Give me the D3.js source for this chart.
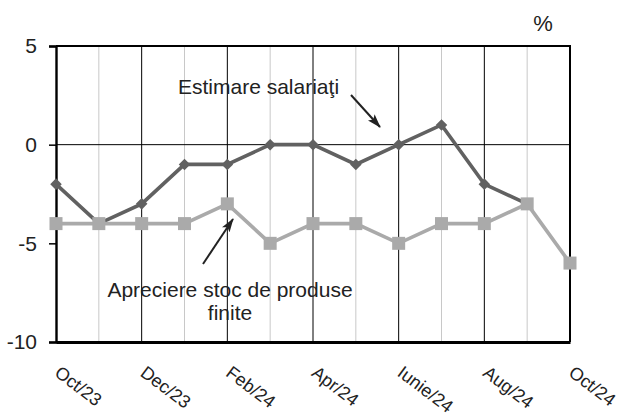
<!DOCTYPE html>
<html>
<head>
<meta charset="utf-8">
<script src="https://cdn.jsdelivr.net/npm/d3@7"></script>
<style>
  body { margin: 0; background: #fff; }
  svg { font-family: "Liberation Sans", Arial, sans-serif; }
</style>
</head>
<body>
<div id="chart"></div>
<script>
// months Oct/23 .. Oct/24
const months = ["Oct/23","Nov/23","Dec/23","Ian/24","Feb/24","Mar/24","Apr/24","Mai/24","Iunie/24","Iul/24","Aug/24","Sep/24","Oct/24"];
const tickLabels = ["Oct/23","Dec/23","Feb/24","Apr/24","Iunie/24","Aug/24","Oct/24"];
const salariati = [-2, -4, -3, -1, -1, 0, 0, -1, 0, 1, -2, -3, null];
const stoc = [-4, -4, -4, -4, -3, -5, -4, -4, -5, -4, -4, -3, -6];
const yTicks = [5, 0, -5, -10];

const width = 624, height = 418;
const margin = {left: 56, right: 54, top: 46, bottom: 76};
const txt = "#222";

const svg = d3.select("#chart").append("svg")
  .attr("width", width)
  .attr("height", height);

const x = d3.scalePoint().domain(months).range([margin.left, width - margin.right]);
const y = d3.scaleLinear().domain([-10, 5]).range([height - margin.bottom, margin.top]);

// vertical gridlines: black at labelled months, grey in between
svg.append("g").selectAll("line")
  .data(months.slice(1, -1))
  .enter().append("line")
  .attr("x1", d => x(d)).attr("x2", d => x(d))
  .attr("y1", y(5)).attr("y2", y(-10))
  .attr("stroke", d => tickLabels.includes(d) ? "#000" : "#c8c8c8")
  .attr("stroke-width", 1);

// zero line
svg.append("line")
  .attr("x1", margin.left).attr("x2", width - margin.right)
  .attr("y1", y(0)).attr("y2", y(0))
  .attr("stroke", "#000");

// frame
svg.append("line").attr("x1", margin.left).attr("x2", width - margin.right + 1)
  .attr("y1", y(5)).attr("y2", y(5)).attr("stroke", "#000").attr("stroke-width", 1.8);
svg.append("line").attr("x1", width - margin.right).attr("x2", width - margin.right)
  .attr("y1", y(5)).attr("y2", y(-10)).attr("stroke", "#000").attr("stroke-width", 2);

// y axis
const yAxis = svg.append("g")
  .attr("transform", `translate(${margin.left},0)`)
  .call(d3.axisLeft(y).tickValues(yTicks).tickFormat(d => String(d)).tickSize(7).tickPadding(12));
yAxis.select(".domain").attr("stroke-width", 2.4);
yAxis.selectAll(".tick line").attr("stroke-width", 1.5);
yAxis.selectAll("text").attr("font-size", 21).attr("fill", txt).style("font-family", "Liberation Sans, Arial");

// x axis
const xAxis = svg.append("g")
  .attr("transform", `translate(0,${y(-10)})`)
  .call(d3.axisBottom(x).tickValues(tickLabels).tickSize(0).tickPadding(0));
xAxis.select(".domain").attr("stroke-width", 2.8);
xAxis.selectAll("text")
  .attr("font-size", 18).attr("fill", txt).style("font-family", "Liberation Sans, Arial")
  .attr("text-anchor", "start")
  .attr("dy", null).attr("y", 0)
  .attr("transform", "translate(-3,33) rotate(37)");

// % label
svg.append("text").attr("x", 543).attr("y", 31)
  .attr("text-anchor", "middle").attr("font-size", 22).attr("fill", txt).text("%");

// lines
const line = d3.line()
  .defined(d => d.v !== null)
  .x(d => x(d.m)).y(d => y(d.v));

const s1 = months.map((m, i) => ({m, v: salariati[i]}));
const s2 = months.map((m, i) => ({m, v: stoc[i]}));

svg.append("path").datum(s1).attr("d", line)
  .attr("fill", "none").attr("stroke", "#616161").attr("stroke-width", 3.6);
svg.append("g").selectAll("path")
  .data(s1.filter(d => d.v !== null))
  .enter().append("path")
  .attr("d", d3.symbol(d3.symbolDiamond2, 85))
  .attr("transform", d => `translate(${x(d.m)},${y(d.v)})`)
  .attr("fill", "#616161");

svg.append("path").datum(s2).attr("d", line)
  .attr("fill", "none").attr("stroke", "#aaa").attr("stroke-width", 3.6);
svg.append("g").selectAll("rect")
  .data(s2)
  .enter().append("rect")
  .attr("x", d => x(d.m) - 6.5).attr("y", d => y(d.v) - 6.5)
  .attr("width", 13).attr("height", 13)
  .attr("fill", "#aaa");

// annotations
svg.append("text").attr("x", 178).attr("y", 94).attr("font-size", 21).attr("fill", txt)
  .text("Estimare salariaţi");
svg.append("text").attr("x", 230).attr("y", 297).attr("font-size", 21).attr("fill", txt)
  .attr("text-anchor", "middle").text("Apreciere stoc de produse");
svg.append("text").attr("x", 230).attr("y", 320).attr("font-size", 21).attr("fill", txt)
  .attr("text-anchor", "middle").text("finite");

const defs = svg.append("defs");
defs.append("marker").attr("id", "arr")
  .attr("viewBox", "0 0 14 10").attr("refX", 13).attr("refY", 5)
  .attr("markerUnits", "userSpaceOnUse")
  .attr("markerWidth", 14).attr("markerHeight", 10).attr("orient", "auto")
  .append("path").attr("d", "M0,0.5 L14,5 L0,9.5 L3,5 Z").attr("fill", txt);

svg.append("line").attr("x1", 351).attr("y1", 95).attr("x2", 380).attr("y2", 127)
  .attr("stroke", txt).attr("stroke-width", 2).attr("marker-end", "url(#arr)");
svg.append("line").attr("x1", 203).attr("y1", 264).attr("x2", 233).attr("y2", 219)
  .attr("stroke", txt).attr("stroke-width", 2).attr("marker-end", "url(#arr)");
</script>
</body>
</html>
